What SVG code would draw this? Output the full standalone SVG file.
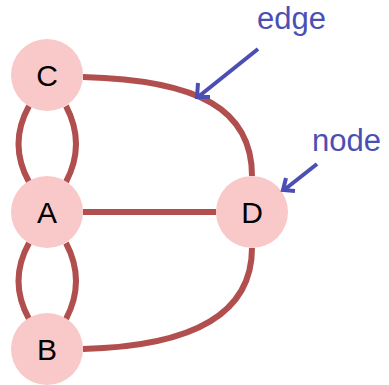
<svg xmlns="http://www.w3.org/2000/svg" width="389" height="385" viewBox="0 0 389 385">
<style>
.edge{fill:none;stroke:#b14f4f;stroke-width:6}
.node circle{fill:#f9c8c8}
.node text{font-family:"Liberation Sans",Arial,sans-serif;font-size:30px;fill:#000;text-anchor:middle}
.lbl{font-family:"Liberation Sans",Arial,sans-serif;font-size:31px;fill:#4b4fb3}
.ptr{fill:none;stroke:#4b4fb3;stroke-width:4}
</style>
<rect width="389" height="385" fill="#fff"/>
<g id="connectors">
<path class="edge" d="M83 77 C200 80 252 110 252 176"/>
<path class="edge" d="M83 212 L216 212"/>
<path class="edge" d="M83 349 C200 346 252 310 252 248"/>
<path class="edge" d="M29 106 Q8 144 29 182"/>
<path class="edge" d="M66 106 Q86 144 66 182"/>
<path class="edge" d="M29 243 Q8 281 29 319"/>
<path class="edge" d="M66 243 Q86 281 66 319"/>
</g>
<g id="node-C" class="node"><circle cx="47" cy="75" r="36"/><text x="47" y="86">C</text></g>
<g id="node-A" class="node"><circle cx="47" cy="212" r="36"/><text x="47" y="223">A</text></g>
<g id="node-B" class="node"><circle cx="47" cy="349" r="36"/><text x="47" y="360">B</text></g>
<g id="node-D" class="node"><circle cx="252" cy="212" r="36"/><text x="252" y="223">D</text></g>
<g id="label-edge">
<text class="lbl" x="257" y="29">edge</text>
<path class="ptr" d="M258 49 L198 97"/>
<path class="ptr" d="M198 83 L197 97 L210 97"/>
</g>
<g id="label-node">
<text class="lbl" x="312" y="151">node</text>
<path class="ptr" d="M317 164 L284 190"/>
<path class="ptr" d="M286 178 L283 190 L295 191"/>
</g>
</svg>
